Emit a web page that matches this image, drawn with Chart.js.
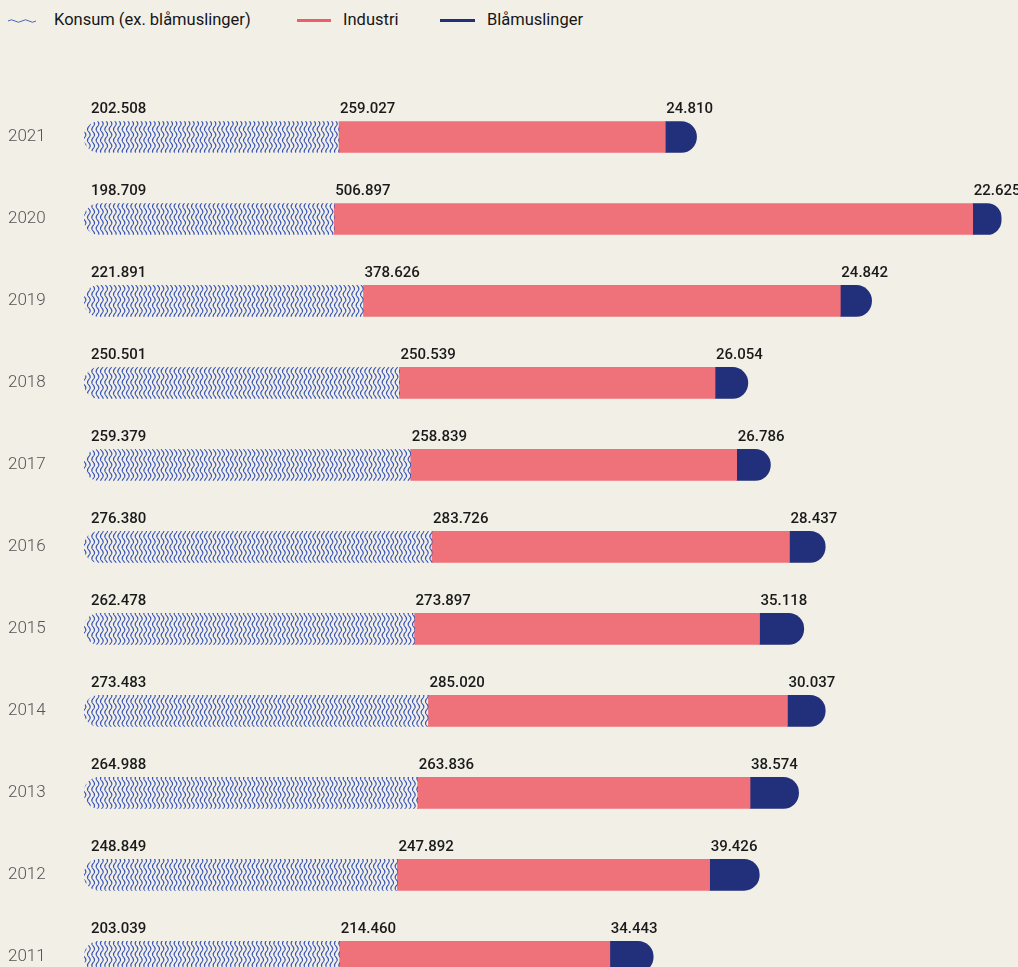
<!DOCTYPE html>
<html>
<head>
<meta charset="utf-8">
<script src="https://cdn.jsdelivr.net/npm/chart.js@4.4.1/dist/chart.umd.min.js"></script>
<style>
  html, body { margin:0; padding:0; background:#F2EFE7; width:1018px; height:967px; overflow:hidden; }
  #wrap { position:absolute; left:0; top:0; width:1018px; height:1008px; }
  .legend { position:absolute; top:8px; left:0; height:24px; font-family:Roboto, sans-serif; font-size:16.5px; color:#161616; }
  .item { position:absolute; top:0; white-space:nowrap; line-height:24px; }
  .line { position:absolute; top:11px; height:3px; }
</style>
</head>
<body>
<div class="legend">
  <svg style="position:absolute;left:8px;top:9px" width="30" height="8" viewBox="0 0 30 8">
    <path d="M0 4 Q 3.5 1.5 7 4 T 14 4 T 21 4 T 28 4" fill="none" stroke="#4A64B8" stroke-width="1"/>
  </svg>
  <span class="item" id="lg0" style="left:54px"></span>
  <div class="line" style="left:297px;width:34px;background:#EC5E6C"></div>
  <span class="item" id="lg1" style="left:343px"></span>
  <div class="line" style="left:440px;width:35px;background:#22307C"></div>
  <span class="item" id="lg2" style="left:487px"></span>
</div>
<div id="wrap"><canvas id="c"></canvas></div>
<script>
const years = ['2021','2020','2019','2018','2017','2016','2015','2014','2013','2012','2011'];
const seriesNames = ['Konsum (ex. blåmuslinger)', 'Industri', 'Blåmuslinger'];
const konsum = [202508, 198709, 221891, 250501, 259379, 276380, 262478, 273483, 264988, 248849, 203039];
const industri = [259027, 506897, 378626, 250539, 258839, 283726, 273897, 285020, 263836, 247892, 214460];
const blaamuslinger = [24810, 22625, 24842, 26054, 26786, 28437, 35118, 30037, 38574, 39426, 34443];

document.getElementById('lg0').textContent = seriesNames[0];
document.getElementById('lg1').textContent = seriesNames[1];
document.getElementById('lg2').textContent = seriesNames[2];

function fmt(v) {
  return String(v).replace(/\B(?=(\d{3})+(?!\d))/g, '.');
}

// wavy pattern
const tile = document.createElement('canvas');
tile.width = 13; tile.height = 11;
const tc = tile.getContext('2d');
tc.strokeStyle = '#3553B6';
tc.lineWidth = 1.25;
for (let k = 0; k < 3; k++) {
  const cx = 2.17 + k * 4.333;
  tc.beginPath();
  for (let y = -1; y <= 12; y += 0.25) {
    const x = cx + 1.3 * Math.sin(2 * Math.PI * y / 11);
    if (y === -1) tc.moveTo(x, y); else tc.lineTo(x, y);
  }
  tc.stroke();
}
const wave = document.createElement('canvas').getContext('2d').createPattern(tile, 'repeat');

const R = 16;
const labelPlugin = {
  id: 'segLabels',
  afterDatasetsDraw(chart) {
    const ctx = chart.ctx;
    ctx.save();
    ctx.font = '500 15px Roboto';
    ctx.fillStyle = '#1A1A1A';
    ctx.textBaseline = 'alphabetic';
    ctx.textAlign = 'left';
    chart.data.datasets.forEach((ds, i) => {
      const meta = chart.getDatasetMeta(i);
      meta.data.forEach((el, j) => {
        const p = el.getProps(['x', 'y', 'base', 'height'], true);
        const left = Math.min(p.x, p.base);
        const top = p.y - p.height / 2;
        const off = i === 0 ? 7 : 1;
        ctx.fillText(fmt(ds.data[j]), left + off, top - 8);
      });
    });
    ctx.restore();
  }
};

Chart.defaults.font.family = 'Roboto';
new Chart(document.getElementById('c'), {
  type: 'bar',
  data: {
    labels: years,
    datasets: [
      { label: seriesNames[0], data: konsum, backgroundColor: wave, borderSkipped: false,
        borderRadius: { topLeft: R, bottomLeft: R, topRight: 0, bottomRight: 0 } },
      { label: seriesNames[1], data: industri, backgroundColor: '#EF717A', borderSkipped: false,
        borderRadius: 0 },
      { label: seriesNames[2], data: blaamuslinger, backgroundColor: '#22307C', borderSkipped: false,
        borderRadius: { topLeft: 0, bottomLeft: 0, topRight: R, bottomRight: R } }
    ]
  },
  options: {
    indexAxis: 'y',
    responsive: true,
    maintainAspectRatio: false,
    animation: false,
    barThickness: 31,
    layout: { padding: { left: 8, right: 2, top: 96, bottom: 4 } },
    plugins: { legend: { display: false }, tooltip: { enabled: false } },
    scales: {
      x: { stacked: true, display: false, min: 0, max: 740000 },
      y: {
        stacked: true,
        grid: { display: false },
        border: { display: false },
        ticks: { crossAlign: 'far', color: '#555555', font: { size: 17, weight: 300 }, padding: 0 },
        afterFit(scale) { scale.width = 76; }
      }
    }
  },
  plugins: [labelPlugin]
});
</script>
</body>
</html>
